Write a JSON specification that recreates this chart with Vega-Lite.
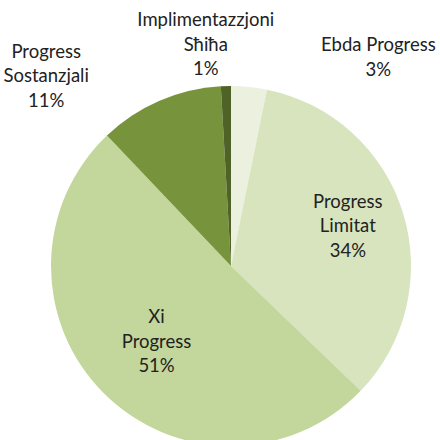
{
  "$schema": "https://vega.github.io/schema/vega-lite/v6.json",
  "width": 440,
  "height": 440,
  "autosize": {"type": "none"},
  "padding": {"left": 11, "top": 46, "right": 0, "bottom": 0},
  "background": "white",
  "config": {"view": {"stroke": null}},
  "data": {
    "values": [
      {"name": "Ebda Progress", "order": 1, "pct": 3.2, "label": "Ebda Progress\n3%"},
      {"name": "Progress Limitat", "order": 2, "pct": 34.0, "label": "Progress\nLimitat\n34%"},
      {"name": "Xi Progress", "order": 3, "pct": 50.7, "label": "Xi\nProgress\n51%"},
      {"name": "Progress Sostanzjali", "order": 4, "pct": 11.2, "label": "Progress\nSostanzjali\n11%"},
      {"name": "Implimentazzjoni Sħiħa", "order": 5, "pct": 0.9, "label": "Implimentazzjoni\nSħiħa\n1%"}
    ]
  },
  "encoding": {
    "theta": {"field": "pct", "type": "quantitative", "stack": true},
    "order": {"field": "order", "type": "quantitative"}
  },
  "layer": [
    {
      "mark": {"type": "arc", "outerRadius": 180},
      "encoding": {
        "color": {
          "field": "name",
          "type": "nominal",
          "legend": null,
          "scale": {
            "domain": ["Ebda Progress", "Progress Limitat", "Xi Progress", "Progress Sostanzjali", "Implimentazzjoni Sħiħa"],
            "range": ["#EBF1DE", "#D7E4BD", "#C3D69B", "#77933C", "#4F6228"]
          }
        }
      }
    },
    {
      "mark": {"type": "text", "radius": 115, "dx": 7, "dy": -30, "font": "Lato", "fontSize": 18.5, "lineHeight": 24.5, "lineBreak": "\n", "color": "#222", "align": "center", "baseline": "middle"},
      "encoding": {
        "text": {"condition": {"test": "datum.name === 'Progress Limitat'", "field": "label"}, "value": ""}
      }
    },
    {
      "mark": {"type": "text", "radius": 105, "dy": -23, "font": "Lato", "fontSize": 18.5, "lineHeight": 24.5, "lineBreak": "\n", "color": "#222", "align": "center", "baseline": "middle"},
      "encoding": {
        "text": {"condition": {"test": "datum.name === 'Xi Progress'", "field": "label"}, "value": ""}
      }
    },
    {
      "mark": {"type": "text", "radius": 206, "dx": -103, "dy": -25, "font": "Lato", "fontSize": 18.5, "lineHeight": 24.5, "lineBreak": "\n", "color": "#222", "align": "center", "baseline": "middle"},
      "encoding": {
        "text": {"condition": {"test": "datum.name === 'Progress Sostanzjali'", "field": "label"}, "value": ""}
      }
    },
    {
      "mark": {"type": "text", "radius": 220, "dx": -19, "dy": -26, "font": "Lato", "fontSize": 18.5, "lineHeight": 24.5, "lineBreak": "\n", "color": "#222", "align": "center", "baseline": "middle"},
      "encoding": {
        "text": {"condition": {"test": "datum.name === 'Implimentazzjoni Sħiħa'", "field": "label"}, "value": ""}
      }
    },
    {
      "mark": {"type": "text", "radius": 213, "dx": 126, "dy": -9, "font": "Lato", "fontSize": 18.5, "lineHeight": 24.5, "lineBreak": "\n", "color": "#222", "align": "center", "baseline": "middle"},
      "encoding": {
        "text": {"condition": {"test": "datum.name === 'Ebda Progress'", "field": "label"}, "value": ""}
      }
    }
  ]
}
